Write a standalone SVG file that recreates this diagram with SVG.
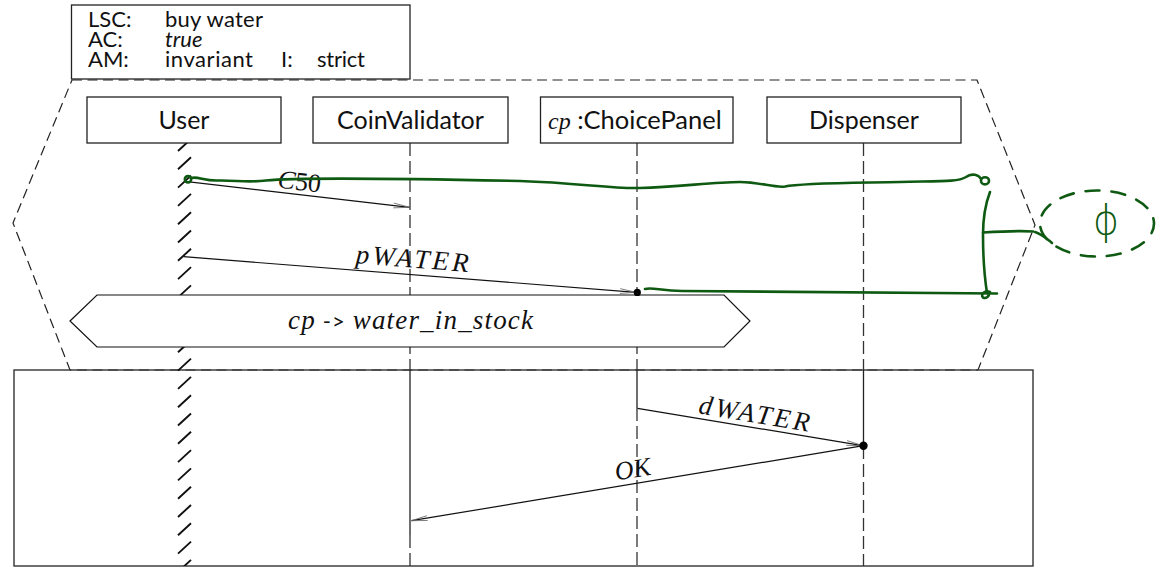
<svg xmlns="http://www.w3.org/2000/svg" width="1160" height="567" viewBox="0 0 1160 567">
<style>
.box{fill:#fff;stroke:#222;stroke-width:1.3}
.sans{font-family:Lato,"Liberation Sans",sans-serif;fill:#111}
.math{font-family:"Liberation Serif","DejaVu Serif",serif;font-style:italic;fill:#111}
.ll{stroke:#222;stroke-width:1.3;fill:none}
.lld{stroke:#333;stroke-width:1.3;fill:none;stroke-dasharray:13 5}
.msg{stroke:#111;stroke-width:1.2;fill:none;marker-end:url(#ah)}
.green{stroke:#0f5a12;stroke-width:2.6;fill:none;stroke-linecap:round;stroke-linejoin:round}
</style>
<defs>
<marker id="ah" markerUnits="userSpaceOnUse" markerWidth="20" markerHeight="10" viewBox="-17 -5 20 10" refX="0" refY="0" orient="auto">
<path d="M-16,-2.4 L0,0 L-16,2.4" stroke="#666" stroke-width="0.8" fill="none"/>
</marker>
<clipPath id="hclip"><rect x="170" y="143" width="30" height="423"/></clipPath>
</defs>

<!-- frames -->
<g id="prechart">
<polygon points="72,80 977,80 1035,225 978,370 70,370 13,223" fill="none" stroke="#222" stroke-width="1.2" stroke-dasharray="10 5.5"/>
</g>
<g id="mainchart">
<rect x="14" y="370" width="1019" height="196" fill="none" stroke="#333" stroke-width="1.4"/>
</g>
<g id="header">
<rect x="71.5" y="5" width="338.5" height="74" fill="#fff" stroke="#222" stroke-width="1.3"/>
<text class="sans" font-size="22" x="88" y="26.5">LSC:</text>
<text class="sans" font-size="22" x="165" y="26.5" textLength="98">buy water</text>
<text class="sans" font-size="22" x="88" y="46.5">AC:</text>
<text class="sans" font-size="22" x="165" y="46.5" font-style="italic">true</text>
<text class="sans" font-size="22" x="88" y="66.5">AM:</text>
<text class="sans" font-size="22" x="165" y="66.5" textLength="88">invariant</text>
<text class="sans" font-size="22" x="281" y="66.5">I:</text>
<text class="sans" font-size="22" x="317" y="66.5" textLength="48">strict</text>
</g>

<!-- lifelines -->
<g id="lifelines">
<g clip-path="url(#hclip)">
<path stroke="#111" stroke-width="1.9" fill="none" d="M178,151L191,139 M178,169.3L191,157.3 M178,187.6L191,175.6 M178,205.9L191,193.9 M178,224.2L191,212.2 M178,242.5L191,230.5 M178,260.8L191,248.8 M178,279.1L191,267.1 M178,297.4L191,285.4 M178,315.7L191,303.7 M178,334L191,322 M178,352.3L191,340.3 M178,370.6L191,358.6 M178,388.9L191,376.9 M178,407.2L191,395.2 M178,425.5L191,413.5 M178,443.8L191,431.8 M178,462.1L191,450.1 M178,480.4L191,468.4 M178,498.7L191,486.7 M178,517L191,505 M178,535.3L191,523.3 M178,553.6L191,541.6 M178,571.9L191,559.9"/>
</g>
<path class="lld" d="M410,143V370 M637,143V370 M863.5,143V370 M410,535V566 M637,408V566 M863.5,446V566"/>
<path class="ll" d="M410,370V535 M637,370V408 M863.5,370V446"/>
</g>

<g id="User"><rect class="box" x="87" y="97" width="194" height="46"/><text class="sans" font-size="25" x="184" y="128.5" text-anchor="middle">User</text></g>
<g id="CoinValidator"><rect class="box" x="313" y="97" width="195" height="46"/><text class="sans" font-size="25" x="410.5" y="128.5" text-anchor="middle">CoinValidator</text></g>
<g id="ChoicePanel"><rect class="box" x="540.5" y="97" width="192.5" height="46"/><text x="548" y="128.5"><tspan class="math" font-size="24">cp</tspan><tspan class="sans" font-size="25.5"> :ChoicePanel</tspan></text></g>
<g id="Dispenser"><rect class="box" x="767" y="97" width="194" height="46"/><text class="sans" font-size="25" x="864" y="128.5" text-anchor="middle">Dispenser</text></g>

<!-- condition -->
<g id="condition">
<polygon points="70,321 97,295 724,295 750,321 724,347 97,347" fill="#fff" stroke="#111" stroke-width="1.2"/>
<text x="410.5" y="329" text-anchor="middle" font-size="27" textLength="245"><tspan class="math">cp</tspan><tspan class="sans" font-size="22"> -&gt; </tspan><tspan class="math">water_in_stock</tspan></text>
</g>

<!-- messages -->
<g id="connectors">
<line class="msg" x1="187" y1="181.7" x2="409.5" y2="207.3"/>
<line class="msg" x1="183.5" y1="256.7" x2="636" y2="292.3"/>
<line class="msg" x1="637.5" y1="408.3" x2="862.5" y2="445.6"/>
<line class="msg" x1="863.5" y1="445.7" x2="411.5" y2="520.7"/>
<circle cx="637.3" cy="292.4" r="3.6" fill="#000"/>
<circle cx="863.5" cy="445.7" r="4.2" fill="#000"/>
<text class="math" font-size="26" x="298.5" y="190" text-anchor="middle" transform="rotate(6.6 298.5 190)">C<tspan font-style="normal">50</tspan></text>
<text class="math" font-size="27" x="411.5" y="267.5" text-anchor="middle" transform="rotate(4.5 411.5 267.5)" textLength="113">pWATER</text>
<text class="math" font-size="27" x="753" y="422.5" text-anchor="middle" transform="rotate(9.4 753 422.5)" textLength="112">dWATER</text>
<text class="math" font-size="26" x="634" y="477.5" text-anchor="middle" transform="rotate(-9.4 634 477.5)">OK</text>
</g>

<!-- hand-drawn annotation -->
<g id="annotation">
<circle class="green" cx="188" cy="179.3" r="3.2"/>
<path class="green" d="M191,178 C198,176 204,181 218,180.5 C236,180 246,183 266,180.5 C300,177 400,178.5 520,181 C580,183 612,189 640,188 C680,187 712,182 740,182 C760,182 774,188 785,186.5 C800,183 850,183 900,182 C940,181 958,182 966,177 C972,172.5 979,175 981,179"/>
<ellipse class="green" cx="985" cy="180.8" rx="4" ry="3.6"/>
<path class="green" d="M990,192 C985,205 983,220 983,235 C983,260 985,280 987,293"/>
<path class="green" d="M983,232.5 C1000,231.5 1020,230.5 1033,231.5"/>
<path class="green" d="M645,289 C652,287 660,290.5 682,291 L997,293.5"/>
<path class="green" d="M990,292 C985,290 980,294 983,297.5 C986,299 990,296 988.5,293"/>
<ellipse class="green" cx="1097" cy="223.5" rx="57" ry="33" stroke-dasharray="14 12" stroke-dashoffset="4"/>
<path class="green" d="M1035,232 C1042,234 1047,239 1052,243"/>
<text x="1106" y="234" text-anchor="middle" font-family="DejaVu Sans,sans-serif" font-weight="200" font-size="40" fill="#0f5a12">ϕ</text>
</g>
</svg>
